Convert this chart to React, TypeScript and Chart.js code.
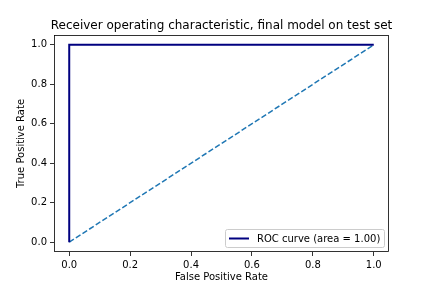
import React, { useEffect, useRef } from "react";
import { Chart, registerables } from "chart.js";

Chart.register(...registerables);

const titleText = "Receiver operating characteristic, final model on test set";
const xLabel = "False Positive Rate";
const yLabel = "True Positive Rate";
const rocFpr = [0.0, 0.0, 1.0];
const rocTpr = [0.0, 1.0, 1.0];
const diagX = [0.0, 1.0];
const diagY = [0.0, 1.0];
const tickValues = [0.0, 0.2, 0.4, 0.6, 0.8, 1.0];
const rocLabel = "ROC curve (area = 1.00)";

const FONT = "'DejaVu Sans', sans-serif";

const framePlugin = {
  id: "frame",
  afterDatasetsDraw(chart: any) {
    const { ctx, chartArea: a } = chart;
    ctx.save();
    ctx.strokeStyle = "#000";
    ctx.lineWidth = 0.8;
    ctx.strokeRect(a.left + 0.5, a.top + 0.5, a.right - a.left - 1, a.bottom - a.top - 1);
    // title
    ctx.fillStyle = "#000";
    ctx.font = `12px ${FONT}`;
    ctx.textAlign = "center";
    ctx.textBaseline = "alphabetic";
    ctx.fillText(titleText, (a.left + a.right) / 2, a.top - 6);
    // legend
    const bx = 225, by = 229, bw = 159, bh = 18;
    ctx.fillStyle = "rgba(255,255,255,0.8)";
    ctx.strokeStyle = "#cccccc";
    ctx.lineWidth = 1;
    ctx.beginPath();
    (ctx as any).roundRect(bx + 0.5, by + 0.5, bw, bh, 2);
    ctx.fill();
    ctx.stroke();
    ctx.strokeStyle = "#000080";
    ctx.lineWidth = 2;
    ctx.beginPath();
    ctx.moveTo(229, by + bh / 2 + 0.5);
    ctx.lineTo(249, by + bh / 2 + 0.5);
    ctx.stroke();
    ctx.fillStyle = "#000";
    ctx.font = `10px ${FONT}`;
    ctx.textAlign = "left";
    ctx.textBaseline = "middle";
    ctx.fillText(chart.data.datasets[0].label, 257, by + bh / 2 + 1);
    ctx.restore();
  },
};

export default function App() {
  const ref = useRef<HTMLCanvasElement>(null);
  useEffect(() => {
    if (!ref.current) return;
    const axisCommon = {
      type: "linear" as const,
      min: -0.05,
      max: 1.05,
      afterBuildTicks: (s: any) => {
        s.ticks = tickValues.map((v) => ({ value: v }));
      },
      ticks: {
        color: "#000",
        font: { family: FONT, size: 10 },
        padding: 3,
        callback: (v: any) => Number(v).toFixed(1),
        maxRotation: 0,
        autoSkip: false,
      },
      grid: {
        drawOnChartArea: false,
        drawTicks: true,
        tickLength: 4,
        color: "#000",
        lineWidth: 0.8,
      },
      border: { display: false },
    };
    const chart = new Chart(ref.current, {
      type: "scatter",
      data: {
        datasets: [
          {
            label: rocLabel,
            data: rocFpr.map((x, i) => ({ x, y: rocTpr[i] })),
            showLine: true,
            borderColor: "#000080",
            borderWidth: 2,
            pointRadius: 0,
            fill: false,
          },
          {
            label: "diag",
            data: diagX.map((x, i) => ({ x, y: diagY[i] })),
            showLine: true,
            borderColor: "#1f77b4",
            borderWidth: 1.5,
            borderDash: [5.5, 2.4],
            pointRadius: 0,
            fill: false,
          },
        ],
      },
      options: {
        responsive: false,
        animation: false,
        layout: { padding: { left: 0, right: 43, top: 35, bottom: 0 } },
        plugins: {
          legend: { display: false },
          title: { display: false },
          tooltip: { enabled: false },
        },
        scales: {
          x: {
            ...axisCommon,
            position: "bottom",
            afterFit: (s: any) => {
              s.height = 36;
            },
            title: {
              display: true,
              text: xLabel,
              color: "#000",
              font: { family: FONT, size: 10 },
              padding: { top: 0, bottom: 5 },
            },
          },
          y: {
            ...axisCommon,
            position: "left",
            afterFit: (s: any) => {
              s.width = 54;
            },
            title: {
              display: true,
              text: yLabel,
              color: "#000",
              font: { family: FONT, size: 10 },
              padding: { top: 15, bottom: 0 },
            },
          },
        },
      } as any,
      plugins: [framePlugin],
    });
    return () => chart.destroy();
  }, []);
  return (
    <div style={{ position: "fixed", left: 0, top: 0, width: 432, height: 288, background: "#fff" }}>
      <canvas ref={ref} width={432} height={288} style={{ width: 432, height: 288 }} />
    </div>
  );
}
